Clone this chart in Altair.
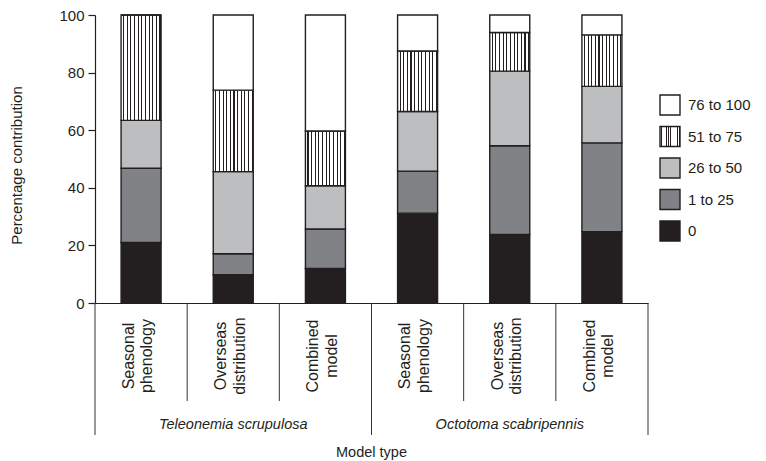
import altair as alt
import pandas as pd

# ---------------- data ----------------
species = ["Teleonemia scrupulosa"] * 3 + ["Octotoma scabripennis"] * 3
models = ["Seasonal phenology", "Overseas distribution", "Combined model"] * 2
model_labels = ["Seasonal\nphenology", "Overseas\ndistribution", "Combined\nmodel"] * 2
classes = ["0", "1 to 25", "26 to 50", "51 to 75", "76 to 100"]
legend_order = ["76 to 100", "51 to 75", "26 to 50", "1 to 25", "0"]

share_0 = [21.0, 9.8, 12.0, 31.2, 23.8, 24.8]
share_1_25 = [25.8, 7.3, 13.7, 14.6, 30.8, 30.8]
share_26_50 = [16.6, 28.5, 15.0, 20.7, 25.9, 19.6]
share_51_75 = [36.6, 28.3, 19.0, 21.0, 13.4, 17.9]
share_76_100 = [0.0, 26.1, 40.3, 12.5, 6.1, 6.9]

keys = [f"{s}|{m}" for s, m in zip(species, models)]
series = [share_0, share_1_25, share_26_50, share_51_75, share_76_100]

rows = []
for ci, (cls, vals) in enumerate(zip(classes, series)):
    for k, v in zip(keys, vals):
        rows.append({"key": k, "cls": cls, "ord": ci, "value": v})
df = pd.DataFrame(rows)

labels_df = pd.DataFrame({"key": keys, "label": model_labels})
groups_df = pd.DataFrame({"key": [keys[1], keys[4]], "label": [species[0], species[3]]})
inner_df = pd.DataFrame({"key": [keys[1], keys[2], keys[4], keys[5]]})
group_start_df = pd.DataFrame({"key": [keys[0], keys[3]]})
group_end_df = pd.DataFrame({"key": [keys[5]]})
title_df = pd.DataFrame({"key": [keys[3]], "label": ["Model type"]})

# ---------------- style ----------------
FONT = "Liberation Sans"
INK = "#231f20"
H = 288

# vertical-stripe fill via a hard-stop linear gradient
n_str = 11
stops = []
for i in range(n_str):
    a = i / n_str
    w = 1 / n_str
    stops += [(a, "#ffffff"), (a + 0.55 * w, "#ffffff"), (a + 0.55 * w, INK),
              (a + 0.85 * w, INK), (a + 0.85 * w, "#ffffff"), (a + w, "#ffffff")]
stripe_expr = ("{gradient: 'linear', x1: 0, y1: 0, x2: 1, y2: 0, stops: ["
               + ",".join(f"{{offset: {o:.4f}, color: '{c}'}}" for o, c in stops) + "]}")

fill_range = ["#ffffff", {"expr": stripe_expr}, "#bcbec0", "#808285", INK]

xscale = alt.Scale(domain=keys, paddingInner=0, paddingOuter=0)

bars = alt.Chart(df).mark_bar(size=40, stroke=INK, strokeWidth=1.4).encode(
    x=alt.X("key:N", scale=xscale, sort=keys,
            axis=alt.Axis(labels=False, ticks=False, title=None, domainColor=INK, domainWidth=1.2)),
    y=alt.Y("value:Q", stack="zero",
            scale=alt.Scale(domain=[0, 100], nice=False),
            axis=alt.Axis(values=[0, 20, 40, 60, 80, 100], tickSize=7, tickColor=INK, domainColor=INK,
                          domainWidth=1.2, tickWidth=1.2, grid=False, labelFontSize=15, labelFont=FONT,
                          labelColor=INK, labelPadding=4, title="Percentage contribution",
                          titleFont=FONT, titleFontSize=15, titleFontWeight="normal", titleColor=INK,
                          titlePadding=34, titleY=150)),
    fill=alt.Fill("cls:N", scale=alt.Scale(domain=legend_order, range=fill_range),
                  legend=alt.Legend(title=None, orient="none", legendX=564, legendY=79,
                                    symbolType="square", symbolSize=400, symbolStrokeColor=INK,
                                    symbolStrokeWidth=1.4, labelFont=FONT, labelFontSize=15,
                                    labelColor=INK, labelOffset=7, rowPadding=5.5)),
    order=alt.Order("ord:Q", sort="ascending"),
)

inner_rules = alt.Chart(inner_df).mark_rule(color="#333333", strokeWidth=1).encode(
    x=alt.X("key:N", bandPosition=0), y=alt.value(H), y2=alt.value(H + 98))
group_rules = alt.Chart(group_start_df).mark_rule(color="#333333", strokeWidth=1).encode(
    x=alt.X("key:N", bandPosition=0), y=alt.value(H), y2=alt.value(H + 132))
end_rule = alt.Chart(group_end_df).mark_rule(color="#333333", strokeWidth=1).encode(
    x=alt.X("key:N", bandPosition=1), y=alt.value(H), y2=alt.value(H + 132))

cat_text = alt.Chart(labels_df).mark_text(angle=270, align="center", baseline="alphabetic", lineBreak="\n",
                                          lineHeight=18.5, dy=-7.2, font=FONT, fontSize=16,
                                          color=INK).encode(
    x=alt.X("key:N"), y=alt.value(H + 53), text="label:N")

group_text = alt.Chart(groups_df).mark_text(align="center", baseline="middle", font=FONT, fontSize=14.5,
                                            fontStyle="italic", color=INK).encode(
    x=alt.X("key:N"), y=alt.value(H + 122), text="label:N")

title_text = alt.Chart(title_df).mark_text(align="center", baseline="middle", font=FONT, fontSize=14.5,
                                           color=INK).encode(
    x=alt.X("key:N", bandPosition=0), y=alt.value(H + 150), text="label:N")

chart = alt.layer(bars, inner_rules, group_rules, end_rule, cat_text, group_text, title_text).properties(
    width=553, height=H,
    autosize=alt.AutoSizeParams(type="none"),
    padding={"left": 87, "top": 7, "right": 110, "bottom": 158},
).configure_view(strokeWidth=0)

chart.save("out.html", embed_options={"renderer": "svg", "actions": False})
